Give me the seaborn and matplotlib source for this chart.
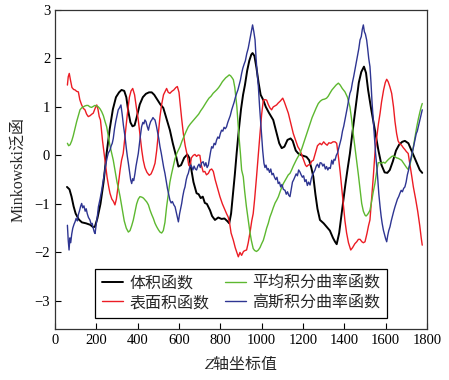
import numpy as np
import pandas as pd
import matplotlib
matplotlib.use("Agg")
import matplotlib.pyplot as plt
import seaborn as sns

# ---- data ----
black_x = [58, 70, 80, 90, 100, 115, 130, 150, 170, 185, 193, 205, 220, 235, 250, 265, 280, 295, 310, 322,
           335, 345, 355, 365, 375, 385, 395, 410, 425, 440, 455, 468, 480, 495, 510, 524, 540, 556, 570, 585,
           597, 610, 625, 640, 650, 660, 670, 685, 695, 705, 715, 725, 735, 750, 760, 774, 790, 806, 820, 835,
           843, 852, 860, 870, 879, 890, 900, 910, 919, 930, 940, 950, 956, 965, 975, 985, 995, 1008, 1020, 1035,
           1056, 1070, 1085, 1097, 1110, 1125, 1140, 1150, 1165, 1177, 1195, 1217, 1230, 1240, 1250, 1260, 1270,
           1282, 1300, 1314, 1330, 1345, 1355, 1363, 1375, 1390, 1405, 1415, 1427, 1440, 1455, 1470, 1482, 1495,
           1505, 1515, 1530, 1548, 1565, 1580, 1595, 1608, 1620, 1635, 1650, 1665, 1680, 1693, 1710, 1725, 1740,
           1755, 1765, 1777]
black_y = [-0.65, -0.70, -0.85, -1.05, -1.20, -1.32, -1.38, -1.40, -1.43, -1.48, -1.47, -1.30, -1.00, -0.55, 0.05,
           0.55, 0.95, 1.20, 1.30, 1.35, 1.33, 1.20, 0.90, 0.68, 0.60, 0.62, 0.78, 1.05, 1.20, 1.27, 1.30, 1.30,
           1.25, 1.15, 1.05, 0.98, 0.75, 0.52, 0.25, 0.00, -0.23, -0.20, -0.05, 0.02, -0.05, -0.30, -0.55, -0.78,
           -0.80, -0.88, -0.85, -0.98, -1.00, -1.13, -1.25, -1.33, -1.28, -1.31, -1.30, -1.36, -1.40, -1.20, -0.85,
           -0.40, 0.05, 0.55, 0.95, 1.25, 1.45, 1.75, 1.95, 2.08, 2.11, 2.05, 1.80, 1.50, 1.25, 1.14, 1.00, 0.88,
           0.73, 0.50, 0.25, 0.15, 0.18, 0.32, 0.35, 0.30, 0.10, 0.04, 0.00, -0.03, -0.10, -0.25, -0.44, -0.80,
           -1.10, -1.33, -1.40, -1.47, -1.55, -1.70, -1.78, -1.83, -1.60, -1.10, -0.60, -0.30, 0.04, 0.50, 1.00,
           1.50, 1.72, 1.83, 1.70, 1.35, 0.95, 0.52, 0.10, -0.20, -0.35, -0.36, -0.30, -0.12, 0.10, 0.22, 0.28,
           0.30, 0.25, 0.10, -0.05, -0.20, -0.30, -0.36]

red_x = [60, 64, 69, 75, 82, 90, 97, 105, 113, 120, 128, 137, 145, 153, 161, 170, 178, 185, 195, 202, 208, 214,
         220, 230, 242, 252, 260, 266, 275, 283, 290, 297, 305, 315, 322, 330, 340, 350, 360, 368, 376, 385, 395,
         403, 412, 420, 427, 435, 445, 456, 465, 475, 484, 492, 500, 508, 516, 525, 533, 540, 548, 556, 565, 575,
         585, 592, 600, 606, 613, 621, 630, 640, 647, 653, 660, 669, 677, 685, 693, 701, 708, 717, 725, 733, 742,
         750, 758, 766, 775, 785, 798, 810, 820, 830, 838, 845, 852, 863, 872, 880, 887, 895, 903, 912, 920, 927,
         935, 945, 952, 959, 966, 975, 984, 992, 1000, 1008, 1016, 1024, 1032, 1040, 1048, 1056, 1064, 1072, 1080,
         1090, 1102, 1110, 1120, 1129, 1140, 1153, 1165, 1175, 1185, 1195, 1205, 1212, 1218, 1225, 1235, 1242,
         1250, 1260, 1270, 1282, 1290, 1300, 1308, 1317, 1325, 1335, 1345, 1355, 1363, 1372, 1380, 1387, 1395,
         1403, 1411, 1420, 1431, 1440, 1451, 1460, 1468, 1476, 1485, 1492, 1500, 1510, 1517, 1524, 1532, 1540,
         1548, 1556, 1565, 1573, 1580, 1590, 1598, 1605, 1612, 1620, 1629, 1638, 1645, 1653, 1660, 1668, 1677,
         1685, 1693, 1700, 1709, 1718, 1727, 1734, 1745, 1755, 1765, 1772, 1777]
red_y = [1.45, 1.62, 1.69, 1.55, 1.40, 1.36, 1.35, 1.32, 1.31, 1.15, 1.05, 0.97, 0.94, 0.85, 0.80, 0.82, 0.85,
         0.87, 0.98, 1.04, 0.95, 0.80, 0.73, 0.30, -0.10, -0.45, -0.65, -0.78, -0.90, -0.95, -1.02, -0.90, -0.65,
         -0.30, -0.10, 0.04, 0.45, 0.85, 1.20, 1.33, 1.38, 1.25, 0.95, 0.73, 0.40, 0.10, -0.10, -0.25, -0.35,
         -0.41, -0.38, -0.28, -0.16, 0.10, 0.45, 0.80, 1.05, 1.25, 1.32, 1.38, 1.30, 1.28, 1.32, 1.35, 1.40, 1.42,
         1.30, 1.05, 0.75, 0.45, 0.20, 0.00, -0.20, -0.23, -0.05, 0.00, 0.02, -0.02, 0.01, 0.00, -0.20, -0.34,
         -0.33, -0.40, -0.37, -0.30, -0.28, -0.33, -0.50, -0.65, -0.85, -1.00, -1.10, -1.20, -1.27, -1.40, -1.60,
         -1.75, -1.90, -2.00, -2.09, -2.00, -2.06, -1.98, -1.96, -1.95, -1.80, -1.55, -1.35, -1.20, -0.90, -0.45,
         0.04, 0.45, 0.85, 1.14, 1.15, 1.14, 1.05, 0.98, 0.94, 1.00, 1.02, 1.04, 1.08, 1.12, 1.18, 1.10, 0.98,
         0.87, 0.68, 0.45, 0.30, 0.18, 0.11, 0.00, -0.12, -0.20, -0.23, -0.20, -0.18, -0.12, -0.10, 0.05, 0.20,
         0.25, 0.22, 0.28, 0.24, 0.21, 0.26, 0.25, 0.28, 0.28, 0.25, -0.05, -0.35, -0.65, -1.00, -1.35, -1.60,
         -1.80, -1.95, -1.90, -1.82, -1.78, -1.73, -1.73, -1.78, -1.80, -1.78, -1.60, -1.45, -1.33, -0.90, -0.45,
         0.04, 0.35, 0.65, 0.87, 1.10, 1.35, 1.50, 1.57, 1.52, 1.42, 1.28, 1.00, 0.70, 0.45, 0.30, 0.24, 0.21,
         0.16, 0.12, 0.08, 0.04, -0.20, -0.45, -0.65, -0.90, -1.15, -1.45, -1.70, -1.85]

green_x = [60, 66, 73, 81, 88, 97, 105, 113, 121, 129, 137, 145, 153, 160, 169, 177, 185, 193, 202, 210, 218,
           226, 234, 242, 250, 258, 266, 274, 282, 290, 300, 308, 315, 325, 335, 345, 355, 363, 371, 379, 388, 395,
           403, 411, 420, 428, 436, 444, 452, 460, 468, 476, 484, 492, 500, 508, 516, 524, 532, 540, 548, 556, 564,
           572, 580, 590, 598, 605, 615, 625, 635, 645, 655, 665, 675, 685, 695, 705, 715, 725, 734, 745, 755, 765,
           775, 782, 792, 800, 810, 818, 826, 835, 843, 850, 857, 863, 870, 876, 880, 885, 890, 897, 903, 911, 918,
           926, 935, 942, 950, 959, 966, 975, 984, 992, 1000, 1008, 1016, 1024, 1032, 1040, 1048, 1056, 1065, 1073,
           1081, 1089, 1097, 1105, 1113, 1121, 1129, 1137, 1145, 1153, 1161, 1169, 1177, 1185, 1195, 1205, 1214,
           1224, 1234, 1244, 1254, 1264, 1274, 1284, 1294, 1304, 1314, 1322, 1330, 1340, 1350, 1360, 1371, 1380,
           1390, 1403, 1415, 1427, 1435, 1443, 1452, 1460, 1468, 1476, 1484, 1492, 1500, 1505, 1512, 1518, 1524,
           1532, 1540, 1548, 1556, 1564, 1572, 1580, 1589, 1597, 1605, 1614, 1622, 1630, 1637, 1645, 1653, 1661,
           1669, 1677, 1685, 1693, 1701, 1709, 1717, 1725, 1733, 1742, 1750, 1758, 1766, 1772, 1777]
green_y = [0.25, 0.20, 0.22, 0.30, 0.40, 0.56, 0.70, 0.82, 0.94, 0.98, 1.00, 1.02, 1.03, 1.03, 1.00, 0.99, 1.01,
           1.03, 1.02, 1.00, 0.96, 0.90, 0.82, 0.70, 0.59, 0.40, 0.20, 0.05, -0.10, -0.30, -0.55, -0.70, -0.85,
           -1.10, -1.35, -1.50, -1.58, -1.55, -1.45, -1.33, -1.15, -1.00, -0.90, -0.85, -0.86, -0.88, -0.92, -0.96,
           -1.02, -1.13, -1.22, -1.30, -1.40, -1.47, -1.53, -1.58, -1.60, -1.55, -1.38, -1.06, -0.80, -0.55, -0.38,
           -0.23, -0.08, 0.05, 0.12, 0.18, 0.30, 0.40, 0.50, 0.59, 0.65, 0.70, 0.75, 0.80, 0.85, 0.92, 0.98, 1.05,
           1.11, 1.18, 1.22, 1.28, 1.32, 1.35, 1.40, 1.45, 1.52, 1.56, 1.60, 1.63, 1.66, 1.64, 1.60, 1.56, 1.40,
           1.15, 1.00, 0.70, 0.40, 0.05, -0.30, -0.44, -0.75, -1.05, -1.33, -1.55, -1.75, -1.92, -1.96, -1.98,
           -1.95, -1.90, -1.82, -1.75, -1.63, -1.50, -1.40, -1.27, -1.18, -1.08, -0.98, -0.92, -0.85, -0.75, -0.66,
           -0.58, -0.52, -0.46, -0.40, -0.37, -0.30, -0.22, -0.15, -0.08, -0.02, 0.04, 0.15, 0.28, 0.40, 0.52,
           0.66, 0.78, 0.88, 0.98, 1.07, 1.12, 1.15, 1.16, 1.18, 1.22, 1.28, 1.35, 1.40, 1.45, 1.49, 1.45, 1.38,
           1.31, 1.20, 1.00, 0.75, 0.45, 0.15, -0.10, -0.40, -0.70, -0.99, -1.15, -1.23, -1.25, -1.22, -1.18,
           -1.13, -0.95, -0.75, -0.58, -0.35, -0.15, -0.15, -0.16, -0.14, -0.16, -0.12, -0.08, -0.05, -0.02, -0.01,
           -0.03, -0.05, -0.06, -0.08, -0.10, -0.15, -0.20, -0.25, -0.29, -0.20, -0.05, 0.15, 0.38, 0.58, 0.75,
           0.90, 1.00, 1.07]

blue_x = [60, 64, 68, 72, 76, 81, 86, 92, 97, 102, 108, 113, 118, 124, 129, 134, 140, 146, 151, 156, 162, 169,
          175, 180, 185, 190, 194, 200, 205, 210, 218, 226, 232, 238, 243, 247, 252, 258, 266, 272, 277, 282, 288,
          294, 300, 306, 312, 319, 325, 331, 339, 345, 350, 355, 361, 366, 371, 376, 381, 387, 392, 397, 403, 408,
          413, 419, 425, 430, 435, 440, 446, 452, 457, 463, 468, 474, 479, 484, 490, 496, 502, 508, 514, 520, 526,
          532, 538, 544, 550, 556, 562, 568, 575, 581, 587, 592, 597, 603, 608, 613, 618, 624, 629, 635, 640, 645,
          650, 655, 661, 667, 673, 679, 685, 691, 697, 703, 710, 717, 724, 730, 736, 742, 748, 753, 758, 764, 770,
          776, 782, 788, 794, 800, 806, 812, 818, 824, 830, 836, 842, 848, 855, 861, 867, 873, 879, 885, 891, 897,
          903, 909, 915, 921, 928, 935, 941, 947, 952, 956, 962, 968, 973, 978, 984, 990, 995, 1000, 1005, 1011,
          1016, 1021, 1027, 1032, 1038, 1044, 1050, 1056, 1062, 1068, 1074, 1080, 1086, 1092, 1098, 1105, 1113,
          1119, 1125, 1131, 1137, 1143, 1149, 1155, 1161, 1167, 1173, 1179, 1185, 1191, 1197, 1203, 1209, 1215,
          1221, 1227, 1234, 1240, 1246, 1252, 1258, 1264, 1270, 1277, 1283, 1290, 1296, 1302, 1308, 1314, 1320,
          1326, 1332, 1339, 1345, 1350, 1355, 1361, 1367, 1373, 1379, 1385, 1391, 1397, 1403, 1409, 1415, 1421,
          1427, 1433, 1439, 1445, 1451, 1457, 1463, 1470, 1476, 1482, 1487, 1492, 1497, 1502, 1508, 1513, 1518,
          1524, 1529, 1534, 1540, 1546, 1551, 1557, 1562, 1567, 1573, 1578, 1583, 1589, 1594, 1600, 1605, 1610,
          1615, 1621, 1627, 1633, 1639, 1645, 1651, 1657, 1663, 1669, 1675, 1681, 1687, 1693, 1699, 1705, 1711,
          1717, 1723, 1729, 1735, 1742, 1748, 1753, 1758, 1764, 1770, 1777]
blue_y = [-1.44, -1.75, -1.95, -1.70, -1.80, -1.62, -1.50, -1.42, -1.37, -1.30, -1.35, -1.22, -1.15, -1.05, -0.99,
          -1.08, -1.04, -1.15, -1.10, -1.20, -1.28, -1.33, -1.42, -1.40, -1.50, -1.58, -1.61, -1.40, -1.25, -1.06,
          -0.90, -0.72, -0.55, -0.40, -0.25, -0.16, -0.05, 0.05, 0.11, 0.20, 0.25, 0.35, 0.55, 0.70, 0.82, 0.94,
          0.98, 1.04, 0.85, 0.62, 0.38, 0.15, -0.02, -0.16, -0.35, -0.50, -0.58, -0.48, -0.52, -0.37, -0.22,
          -0.10, 0.04, 0.22, 0.40, 0.59, 0.68, 0.65, 0.73, 0.70, 0.60, 0.52, 0.62, 0.70, 0.73, 0.78, 0.75, 0.73,
          0.62, 0.48, 0.35, 0.18, 0.05, -0.10, -0.25, -0.37, -0.52, -0.68, -0.80, -0.92, -0.98, -0.95, -1.02,
          -1.06, -1.18, -1.28, -1.37, -1.20, -1.10, -0.99, -0.85, -0.72, -0.65, -0.50, -0.42, -0.37, -0.28, -0.20,
          -0.23, -0.30, -0.22, -0.28, -0.30, -0.22, -0.18, -0.25, -0.15, -0.13, -0.22, -0.15, -0.25, -0.20, -0.05,
          0.08, 0.18, 0.15, 0.25, 0.22, 0.32, 0.38, 0.35, 0.45, 0.52, 0.50, 0.58, 0.55, 0.59, 0.68, 0.75, 0.82,
          0.94, 1.02, 1.10, 1.20, 1.28, 1.35, 1.45, 1.55, 1.69, 1.80, 1.88, 1.95, 2.10, 2.21, 2.35, 2.50, 2.60,
          2.69, 2.55, 2.38, 2.00, 1.70, 1.42, 1.00, 0.70, 0.38, 0.10, -0.16, -0.25, -0.20, -0.30, -0.27, -0.35,
          -0.28, -0.40, -0.37, -0.45, -0.50, -0.45, -0.58, -0.55, -0.65, -0.60, -0.70, -0.72, -0.80, -0.75, -0.82,
          -0.85, -0.70, -0.55, -0.50, -0.44, -0.38, -0.42, -0.30, -0.34, -0.40, -0.45, -0.42, -0.54, -0.50, -0.62,
          -0.55, -0.61, -0.48, -0.40, -0.35, -0.30, -0.22, -0.18, -0.25, -0.15, -0.16, -0.22, -0.18, -0.28, -0.23,
          -0.30, -0.25, -0.27, -0.10, -0.18, -0.08, -0.10, 0.00, 0.05, 0.15, 0.25, 0.35, 0.50, 0.60, 0.73, 0.85,
          1.00, 1.15, 1.28, 1.35, 1.50, 1.62, 1.76, 1.90, 2.05, 2.20, 2.38, 2.45, 2.60, 2.69, 2.55, 2.50, 2.38,
          2.20, 2.00, 1.83, 1.50, 1.10, 0.73, 0.35, 0.05, -0.23, -0.50, -0.80, -1.06, -1.25, -1.40, -1.54, -1.62,
          -1.72, -1.78, -1.65, -1.55, -1.47, -1.35, -1.25, -1.15, -1.06, -0.98, -0.90, -0.85, -0.78, -0.72, -0.75,
          -0.68, -0.65, -0.55, -0.40, -0.30, -0.16, -0.05, 0.05, 0.18, 0.32, 0.45, 0.50, 0.59, 0.70, 0.80, 0.94]

labels = ["体积函数", "表面积函数", "平均积分曲率函数", "高斯积分曲率函数"]
colors = ["#000000", "#ec1c24", "#5db830", "#2e3592"]
x_ticks = [0, 200, 400, 600, 800, 1000, 1200, 1400, 1600, 1800]
y_ticks = [-3, -2, -1, 0, 1, 2, 3]

# ---- style ----
sns.set_style("ticks")
plt.rcParams["font.family"] = ["Liberation Serif", "Noto Sans CJK SC"]
plt.rcParams["mathtext.fontset"] = "stix"
plt.rcParams["axes.unicode_minus"] = False

fig = plt.figure(figsize=(4.49, 3.80), dpi=100)
ax = fig.add_axes([0.1225, 0.134, 0.8285, 0.84])

series = [(black_x, black_y, 1.4), (red_x, red_y, 1.0), (green_x, green_y, 1.0), (blue_x, blue_y, 1.0)]
for (xs, ys, lw), lab, col in zip(series, labels, colors):
    sns.lineplot(x=xs, y=ys, ax=ax, color=col, linewidth=lw, label=lab, estimator=None, sort=False)

ax.set_xlim(0, 1800)
ax.set_ylim(-3.58, 3)
ax.set_xticks(x_ticks)
ax.set_yticks(y_ticks)
ax.set_yticklabels(["\u22123", "\u22122", "\u22121", "0", "1", "2", "3"])
ax.tick_params(direction="in", length=4, width=0.8, labelsize=10.5, top=False, right=False, colors="black")
for sp in ax.spines.values():
    sp.set_visible(True)
    sp.set_color("#333333")
    sp.set_linewidth(0.9)

ax.set_ylabel("Minkowski泛函", fontsize=11.5, labelpad=6)
ax.set_xlabel(r"$Z$轴坐标值", fontsize=11.5, family="Noto Sans CJK SC", labelpad=6)

leg = ax.legend(loc="lower left", bbox_to_anchor=(0.107, 0.034), borderaxespad=0, ncol=2,
                fontsize=11.5, frameon=True, fancybox=False, handlelength=1.3, handletextpad=0.4,
                columnspacing=1.0, borderpad=0.45, labelspacing=0.2)
leg.get_frame().set_edgecolor("black")
leg.get_frame().set_linewidth(0.9)
leg.get_frame().set_alpha(1)

fig.savefig("out.png", dpi=100)
